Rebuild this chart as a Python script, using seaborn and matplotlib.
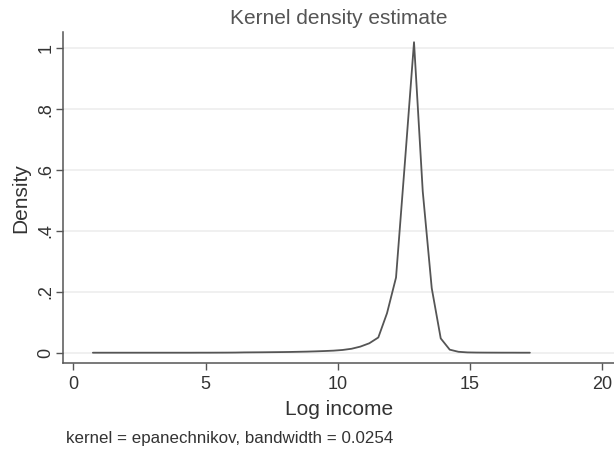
import matplotlib
matplotlib.use("Agg")
import matplotlib.pyplot as plt
import seaborn as sns
import pandas as pd

# Evaluation points of the kernel density estimate (log income)
log_income = [
    0.74, 1.08, 1.41, 1.75, 2.09, 2.43, 2.76, 3.10, 3.44, 3.77,
    4.11, 4.45, 4.79, 5.12, 5.46, 5.80, 6.13, 6.47, 6.81, 7.15,
    7.48, 7.82, 8.16, 8.49, 8.83, 9.17, 9.50, 9.84, 10.18, 10.52,
    10.85, 11.19, 11.53, 11.86, 12.20, 12.54, 12.88, 13.21, 13.55, 13.89,
    14.23, 14.56, 14.90, 15.24, 15.57, 15.91, 16.25, 16.58, 16.92, 17.26,
]
# Estimated density at each point
density = [
    0.0000, 0.0000, 0.0000, 0.0000, 0.0000, 0.0000, 0.0000, 0.0000, 0.0000, 0.0000,
    0.0000, 0.0000, 0.0001, 0.0001, 0.0002, 0.0003, 0.0005, 0.0010, 0.0012, 0.0014,
    0.0017, 0.0020, 0.0024, 0.0030, 0.0036, 0.0045, 0.0055, 0.0068, 0.0090, 0.0130,
    0.0200, 0.0310, 0.0500, 0.1300, 0.2470, 0.6300, 1.0200, 0.5300, 0.2120, 0.0470,
    0.0100, 0.0030, 0.0010, 0.0005, 0.0003, 0.0002, 0.0001, 0.0001, 0.0000, 0.0000,
]

x_ticks = [0, 5, 10, 15, 20]
x_tick_labels = ["0", "5", "10", "15", "20"]
y_ticks = [0, 0.2, 0.4, 0.6, 0.8, 1.0]
y_tick_labels = ["0", ".2", ".4", ".6", ".8", "1"]

sns.set_theme(style="white")
plt.rcParams["font.family"] = ["Liberation Sans", "DejaVu Sans"]

W, H = 614, 450
fig = plt.figure(figsize=(W / 100, H / 100), dpi=100)
ax = fig.add_axes([63.3 / W, 1 - 363.3 / H, (W - 63.3) / W, (363.3 - 32.3) / H])

df = pd.DataFrame({"Log income": log_income, "Density": density})
sns.lineplot(data=df, x="Log income", y="Density", ax=ax,
             color="#555555", linewidth=1.3, zorder=3)

ax.set_xlim(-0.378, 20.44)
ax.set_ylim(-0.0348, 1.0526)

ax.set_xticks(x_ticks)
ax.set_xticklabels(x_tick_labels)
ax.set_yticks(y_ticks)
ax.set_yticklabels(y_tick_labels, rotation=90, va="center")

tick_color = "#555555"
text_color = "#333333"
ax.tick_params(axis="both", which="major", length=5, width=1,
               color=tick_color, labelcolor=text_color, labelsize=13,
               direction="out", bottom=True, left=True)
ax.tick_params(axis="x", pad=4)
ax.tick_params(axis="y", pad=1.5)

ax.yaxis.grid(True, color="#ececec", linewidth=1.1, zorder=0)
ax.xaxis.grid(False)

for side in ("top", "right"):
    ax.spines[side].set_visible(False)
for side in ("left", "bottom"):
    ax.spines[side].set_color(tick_color)
    ax.spines[side].set_linewidth(1.1)

ax.set_xlabel("Log income", fontsize=15, color=text_color, labelpad=5)
ax.set_ylabel("Density", fontsize=15, color=text_color, labelpad=5)
ax.set_title("Kernel density estimate", fontsize=15, color="#555555", pad=6)

fig.text(66 / W, 1 - 439 / H, "kernel = epanechnikov, bandwidth = 0.0254",
         fontsize=12.2, color=text_color, ha="left", va="center")

fig.savefig("out.png", dpi=100)
